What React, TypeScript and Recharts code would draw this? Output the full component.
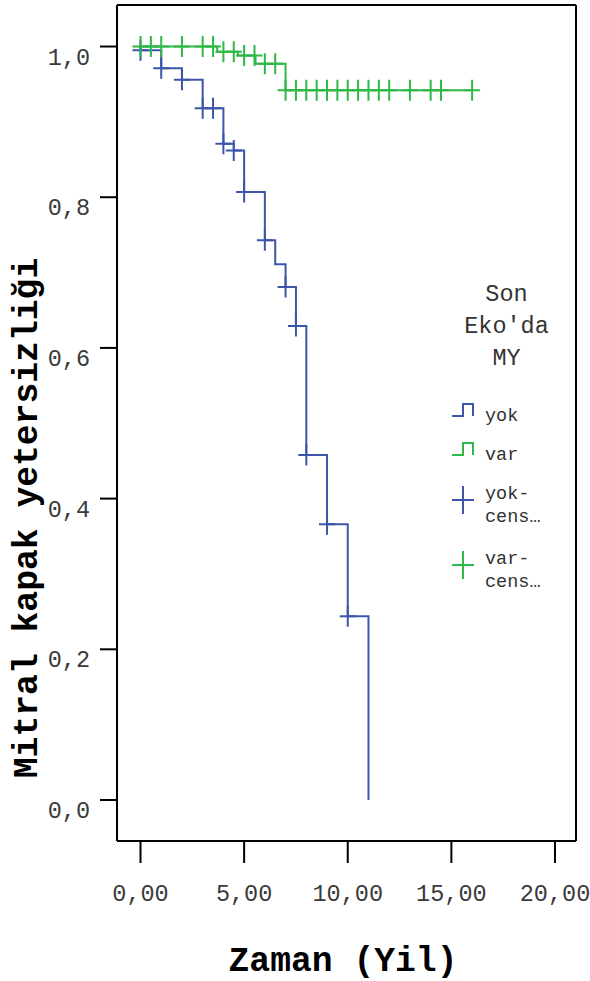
import React from "react";
import {
  ComposedChart,
  Line,
  Scatter,
  XAxis,
  YAxis,
  Legend,
} from "recharts";

const BLUE = "#3d55a9";
const GREEN = "#2eb846";
const MONO = '"Liberation Mono", "Courier New", monospace';

// Kaplan-Meier steps (time in years, survival)
const yokTimes = [0, 0, 1, 2, 3, 4, 4.5, 5, 6, 6.5, 7, 7.5, 8, 9, 10, 11];
const yokSurv = [1, 0.995, 0.971, 0.956, 0.918, 0.871, 0.862, 0.807, 0.743, 0.711, 0.681, 0.629, 0.458, 0.366, 0.244, 0];

const varTimes = [0, 3.7, 4.7, 5.55, 7, 16];
const varSurv = [1, 0.993, 0.988, 0.977, 0.942, 0.942];

// censored cases
const yokCensTimes = [0, 1, 2, 3, 3.5, 4, 4.5, 5, 6, 7, 7.5, 8, 9, 10];
const yokCensSurv = [0.995, 0.971, 0.956, 0.918, 0.918, 0.871, 0.862, 0.807, 0.743, 0.681, 0.629, 0.458, 0.366, 0.244];

const varCensTimes = [0, 0.5, 1, 2, 3, 3.5, 4, 4.5, 5, 5.5, 6, 6.5, 7, 7.5, 8, 8.5, 9, 9.5, 10, 10.5, 11, 11.5, 12, 13, 14, 14.5, 16];
const varCensSurv = [
  1, 1, 1, 1, 1, 1, 0.993, 0.993, 0.988, 0.988, 0.977, 0.977,
  0.942, 0.942, 0.942, 0.942, 0.942, 0.942, 0.942, 0.942, 0.942, 0.942, 0.942, 0.942, 0.942, 0.942, 0.942,
];

const xTicks = [0, 5, 10, 15, 20];
const yTicks = [0, 0.2, 0.4, 0.6, 0.8, 1.0];
const legendTitle = ["Son", "Eko'da", "MY"];
const seriesOrder = ["yok", "var", "yok-censored", "var-censored"];

const zip = (t: number[], s: number[]) => t.map((v, i) => ({ t: v, s: s[i] }));

const yokData = zip(yokTimes, yokSurv);
const varData = zip(varTimes, varSurv);
const yokCens = zip(yokCensTimes, yokCensSurv);
const varCens = zip(varCensTimes, varCensSurv);

const comma = (v: number, d: number) => v.toFixed(d).replace(".", ",");

function CensorMark(props: any) {
  const { cx, cy, fill } = props;
  if (cx == null || cy == null) return null;
  return (
    <path
      d={`M${cx - 8},${cy} h16 M${cx},${cy - 10.5} v21`}
      stroke={fill}
      strokeWidth={2}
      fill="none"
    />
  );
}

function XTick({ x, y, payload }: any) {
  return (
    <text x={x} y={y + 36} textAnchor="middle" fontFamily={MONO} fontSize={23.5} fill="#3a3a3a">
      {comma(payload.value, 2)}
    </text>
  );
}

function YTick({ x, y, payload }: any) {
  return (
    <text x={x} y={y + 18} textAnchor="end" fontFamily={MONO} fontSize={23.5} fill="#3a3a3a">
      {comma(payload.value, 1)}
    </text>
  );
}

function legendLabel(name: string) {
  if (!name.includes("-")) return [name];
  const [a, b] = name.split("-");
  return [a + "-", b.slice(0, 4) + "…"];
}

function KmLegend({ payload }: any) {
  const items = [...(payload ?? [])].sort(
    (a: any, b: any) => seriesOrder.indexOf(a.value) - seriesOrder.indexOf(b.value)
  );
  return (
    <div style={{ width: 140, fontFamily: MONO, color: "#333" }}>
      <div style={{ width: 133, textAlign: "center", fontSize: 23.5, lineHeight: "32px" }}>
        {legendTitle.map((l) => (
          <div key={l}>{l}</div>
        ))}
      </div>
      <div style={{ marginTop: 15, paddingLeft: 12 }}>
        {items.map((entry: any) => {
          const cross = entry.value.includes("-");
          return (
            <div key={entry.value} style={{ display: "flex", height: cross ? 65 : 39 }}>
              {cross ? (
                <svg width={22} height={28} style={{ marginTop: 18, flex: "none" }}>
                  <path d="M0,14 H22 M11,0 V28" stroke={entry.color} strokeWidth={2} fill="none" />
                </svg>
              ) : (
                <svg width={22} height={14} style={{ marginTop: 13, flex: "none" }}>
                  <path d="M0,13 H11 V1 H21 V13" stroke={entry.color} strokeWidth={2} fill="none" />
                </svg>
              )}
              <div style={{ marginLeft: 11, marginTop: 15, fontSize: 18.5, lineHeight: "23px" }}>
                {legendLabel(entry.value).map((l) => (
                  <div key={l}>{l}</div>
                ))}
              </div>
            </div>
          );
        })}
      </div>
    </div>
  );
}

export default function App() {
  return (
    <div style={{ position: "absolute", left: 0, top: 0, background: "#fff" }}>
      <ComposedChart width={590} height={981} margin={{ top: 4, right: 13, left: 0, bottom: 0 }}>
        <XAxis
          dataKey="t"
          type="number"
          domain={[-1.134, 21.013]}
          allowDataOverflow
          ticks={xTicks}
          height={140}
          tickSize={22}
          tick={<XTick />}
          axisLine={{ stroke: "#000", strokeWidth: 2 }}
          tickLine={{ stroke: "#000", strokeWidth: 2 }}
          label={{
            content: () => (
              <text x={343} y={971} textAnchor="middle" fontFamily={MONO} fontWeight="bold" fontSize={34.7} fill="#000">
                Zaman (Yil)
              </text>
            ),
          }}
        />
        <XAxis
          xAxisId="top"
          orientation="top"
          type="number"
          domain={[0, 1]}
          ticks={[]}
          height={1}
          tick={false}
          tickLine={false}
          axisLine={{ stroke: "#000", strokeWidth: 2 }}
        />
        <YAxis
          dataKey="s"
          type="number"
          domain={[-0.0544, 1.0551]}
          allowDataOverflow
          ticks={yTicks}
          width={117}
          tickSize={17}
          tickMargin={10}
          tick={<YTick />}
          axisLine={{ stroke: "#000", strokeWidth: 2 }}
          tickLine={{ stroke: "#000", strokeWidth: 2 }}
          label={{
            content: () => (
              <text
                x={27}
                y={518}
                transform="rotate(-90 27 518)"
                textAnchor="middle"
                dominantBaseline="central"
                fontFamily={MONO}
                fontWeight="bold"
                fontSize={34.7}
                fill="#000"
              >
                Mitral kapak yetersizliği
              </text>
            ),
          }}
        />
        <YAxis
          yAxisId="right"
          orientation="right"
          type="number"
          domain={[0, 1]}
          ticks={[]}
          width={1}
          tick={false}
          tickLine={false}
          axisLine={{ stroke: "#000", strokeWidth: 2 }}
        />
        <Legend
          layout="vertical"
          align="center"
          verticalAlign="middle"
          content={<KmLegend />}
          wrapperStyle={{ left: 440, top: 279, width: 140 }}
        />
        <Line data={yokData} dataKey="s" name="yok" type="stepAfter" stroke={BLUE} strokeWidth={2} dot={false} legendType="line" isAnimationActive={false} />
        <Line data={varData} dataKey="s" name="var" type="stepAfter" stroke={GREEN} strokeWidth={2} dot={false} legendType="line" isAnimationActive={false} />
        <Scatter data={yokCens} dataKey="s" name="yok-censored" fill={BLUE} shape={<CensorMark />} legendType="cross" isAnimationActive={false} />
        <Scatter data={varCens} dataKey="s" name="var-censored" fill={GREEN} shape={<CensorMark />} legendType="cross" isAnimationActive={false} />
      </ComposedChart>
    </div>
  );
}
